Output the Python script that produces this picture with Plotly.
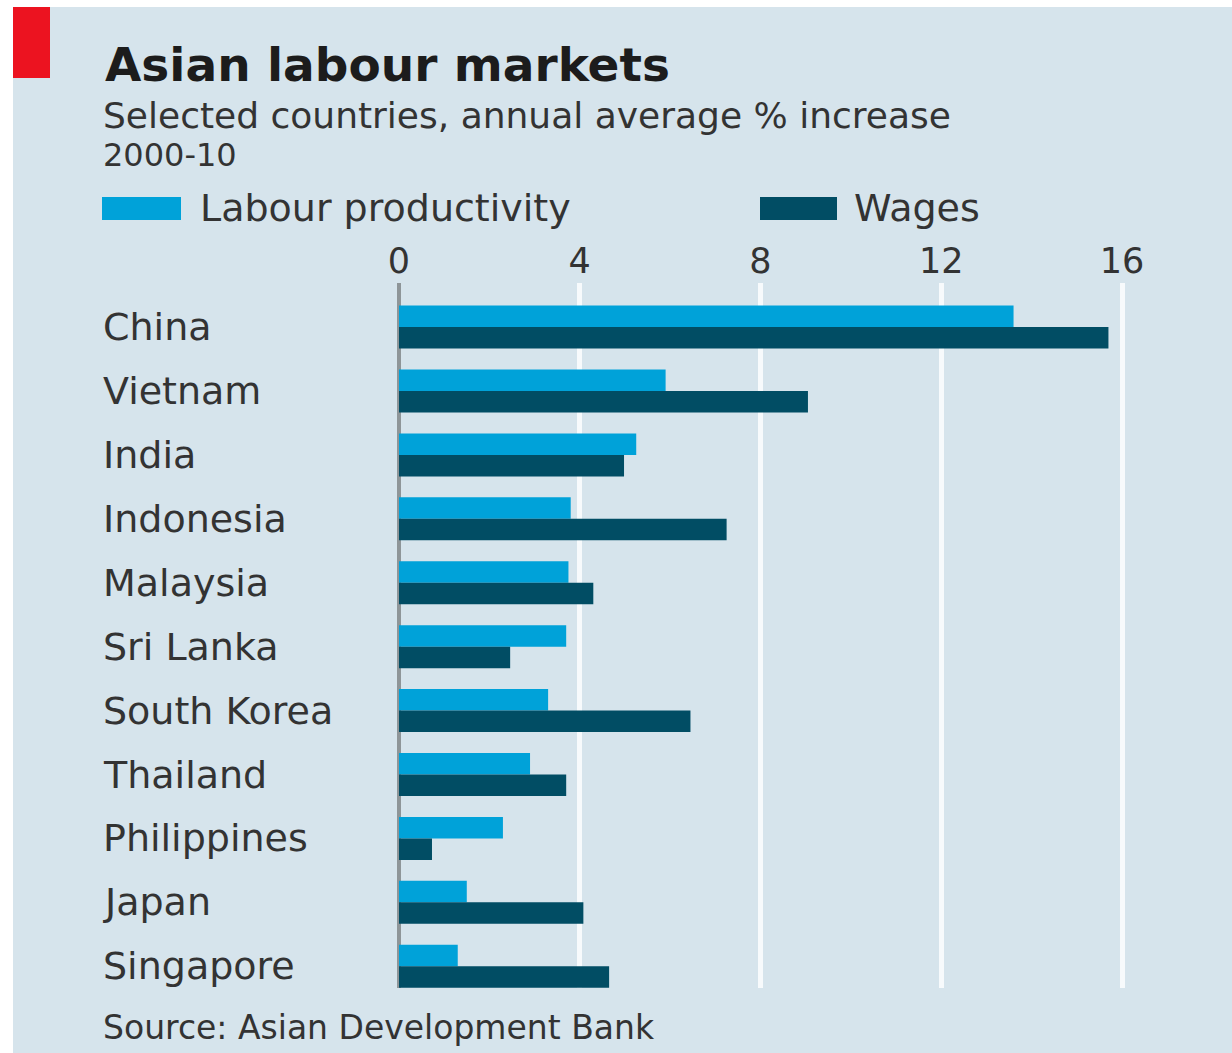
import plotly.graph_objects as go

# Data: annual average % increase, 2000-10
countries = ["China", "Vietnam", "India", "Indonesia", "Malaysia", "Sri Lanka",
             "South Korea", "Thailand", "Philippines", "Japan", "Singapore"]
productivity = [13.6, 5.9, 5.25, 3.8, 3.75, 3.7, 3.3, 2.9, 2.3, 1.5, 1.3]
wages = [15.7, 9.05, 4.98, 7.25, 4.3, 2.46, 6.45, 3.7, 0.73, 4.08, 4.65]
tick_values = [0, 4, 8, 12, 16]
tick_labels = ["0", "4", "8", "12", "16"]

series_names = ["Labour productivity", "Wages"]
series_colors = ["#00a2d9", "#014d64"]

W, H = 1232, 1053
ML, MR, MT, MB = 399, 74, 283, 65
PW, PH = W - ML - MR, H - MT - MB

PANEL = "#d6e4ec"
FONT = "DejaVu Sans"
TEXT = "#333333"


def px(x):
    return (x - ML) / PW


def py(y):
    return (H - MB - y) / PH


fig = go.Figure()
for name, vals, col in zip(series_names, [productivity, wages], series_colors):
    fig.add_trace(go.Bar(
        x=vals, y=countries, orientation="h", name=name,
        marker=dict(color=col, line=dict(width=0)),
        showlegend=False,
    ))

shapes = [
    # white frame strips around the panel
    dict(type="rect", xref="paper", yref="paper", x0=px(0), x1=px(13), y0=py(H), y1=py(0),
         fillcolor="white", line=dict(width=0), layer="above"),
    dict(type="rect", xref="paper", yref="paper", x0=px(0), x1=px(W), y0=py(7), y1=py(0),
         fillcolor="white", line=dict(width=0), layer="above"),
    # red tag
    dict(type="rect", xref="paper", yref="paper", x0=px(13), x1=px(50), y0=py(78), y1=py(7),
         fillcolor="#ec1320", line=dict(width=0), layer="above"),
]

annotations = [
    dict(text="<b>Asian labour markets</b>", x=px(103), y=py(64), xref="paper", yref="paper",
         xanchor="left", yanchor="middle", showarrow=False,
         font=dict(family=FONT, size=47, color="#1c1c1c")),
    dict(text="Selected countries, annual average % increase", x=px(101), y=py(115),
         xref="paper", yref="paper", xanchor="left", yanchor="middle", showarrow=False,
         font=dict(family=FONT, size=36, color=TEXT)),
    dict(text="2000-10", x=px(101), y=py(155), xref="paper", yref="paper",
         xanchor="left", yanchor="middle", showarrow=False,
         font=dict(family=FONT, size=32, color=TEXT)),
    dict(text="Source: Asian Development Bank", x=px(101), y=py(1027), xref="paper", yref="paper",
         xanchor="left", yanchor="middle", showarrow=False,
         font=dict(family=FONT, size=33, color=TEXT)),
]

# legend swatches and labels
legend_items = [(102, 181, 198), (760, 837, 852)]
for (sx0, sx1, tx), name, col in zip(legend_items, series_names, series_colors):
    shapes.append(dict(type="rect", xref="paper", yref="paper", x0=px(sx0), x1=px(sx1),
                       y0=py(220), y1=py(197), fillcolor=col, line=dict(width=0)))
    annotations.append(dict(text=name, x=px(tx), y=py(208), xref="paper", yref="paper",
                            xanchor="left", yanchor="middle", showarrow=False,
                            font=dict(family=FONT, size=38, color=TEXT)))

# country labels, left aligned
for c in countries:
    annotations.append(dict(text=c, x=px(101), y=c, xref="paper", yref="y",
                            xanchor="left", yanchor="middle", showarrow=False,
                            font=dict(family=FONT, size=38, color=TEXT)))

fig.update_layout(
    width=W, height=H,
    margin=dict(l=ML, r=MR, t=MT, b=MB, pad=0),
    paper_bgcolor=PANEL, plot_bgcolor=PANEL,
    barmode="group", bargap=0.327, bargroupgap=0,
    shapes=shapes, annotations=annotations,
    xaxis=dict(
        side="top", range=[0, PW / (723 / 16)],
        tickvals=tick_values, ticktext=tick_labels,
        showgrid=True, gridcolor="#f7fafc", gridwidth=5,
        zeroline=True, zerolinecolor="#8e9598", zerolinewidth=4,
        showline=False, ticks="", ticklabelstandoff=2,
        tickfont=dict(family=FONT, size=35, color=TEXT),
    ),
    yaxis=dict(
        type="category", categoryarray=countries,
        range=[10.34, -0.69], showticklabels=False,
        showgrid=False, zeroline=False, showline=False, ticks="",
    ),
)

fig.write_html("out.html")
